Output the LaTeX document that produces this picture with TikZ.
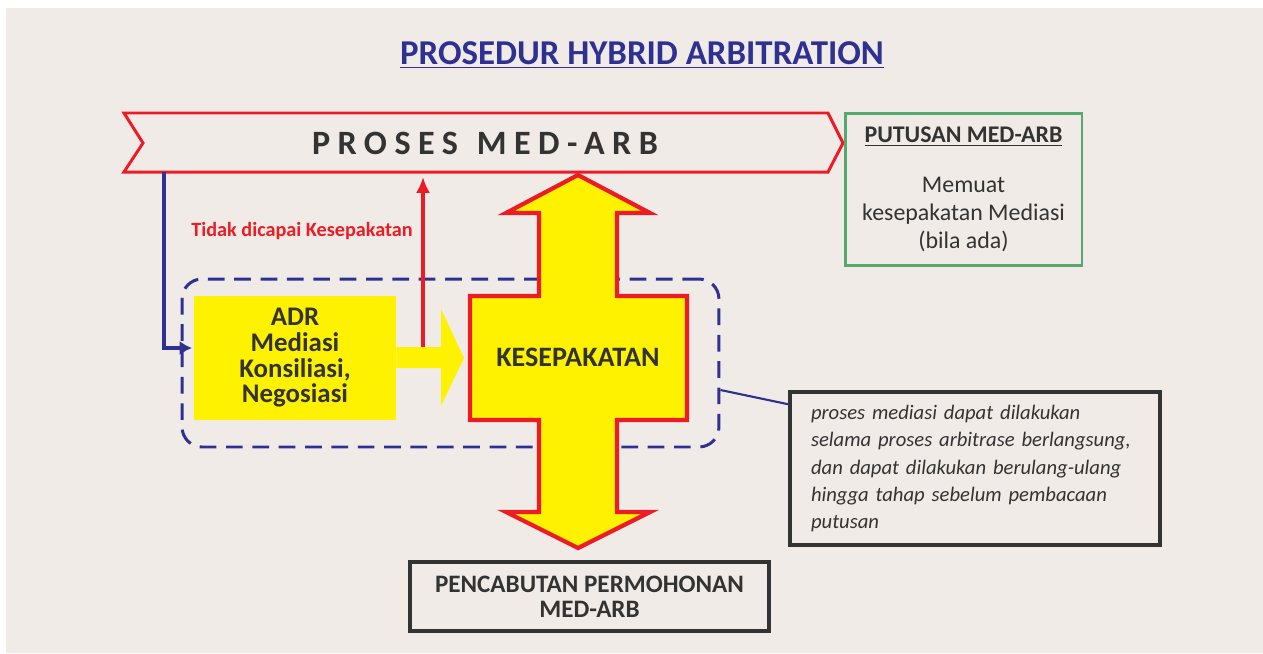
\documentclass[tikz,border=0pt]{standalone}
\usepackage{fontspec}
\setmainfont{Carlito}
\usetikzlibrary{arrows.meta,positioning}

\definecolor{bgpanel}{HTML}{F0EBE7}
\definecolor{medblue}{HTML}{2E3192}
\definecolor{medred}{HTML}{ED1C24}
\definecolor{medyellow}{HTML}{FFF200}
\definecolor{medgreen}{HTML}{55A86E}
\definecolor{darktext}{HTML}{333333}

\tikzset{
  redline/.style={draw=medred, line width=1.7pt},
  blueline/.style={draw=medblue, line width=2.2pt},
  darkbox/.style={draw=darktext, line width=2pt, text=darktext},
  boldtext/.style={text=darktext, font=\bfseries},
}

\begin{document}
\begin{tikzpicture}[x=0.02cm, y=-0.02cm]
  % background panel
  \fill[white](0, 0) rectangle (1263, 653);
  \fill[bgpanel](6, 8) rectangle (1263, 653);

  \node[text=medblue, font=\fontsize{19.85}{23}\selectfont\bfseries] at(642, 55)(title){\underline{PROSEDUR HYBRID ARBITRATION}};

  % banner
  \draw[redline](124, 113) -- (828, 113) -- (843, 143) -- (828, 172) -- (124, 172) -- (143, 143) -- cycle;
  \node[boldtext, font=\fontsize{19.4}{23}\selectfont\bfseries\addfontfeature{LetterSpace=22}] at(485, 143)(banner){PROSES\hspace{2pt} MED-ARB};

  \node[draw=medgreen, line width=1.7pt, text=darktext, minimum width=4.74cm, minimum height=3.06cm, align=center,
        font=\fontsize{13.6}{16}\selectfont] at(963.5, 189.5)(putusan){\textbf{\underline{PUTUSAN MED-ARB}}\\[12pt]Memuat\\kesepakatan Mediasi\\(bila ada)};

  % dashed group
  \node[draw=medblue, line width=1.7pt, dash pattern=on 9.5pt off 5.5pt, rounded corners=0.4cm,
        minimum width=10.74cm, minimum height=3.36cm] at(450.5, 363)(medgroup){};

  \node[fill=medyellow, minimum width=4.04cm, minimum height=2.48cm, align=center, boldtext,
        font=\fontsize{15.3}{14.6}\selectfont\bfseries] at(295, 358)(adr){ADR\\Mediasi\\Konsiliasi,\\Negosiasi};

  % yellow arrow
  \fill[medyellow](adr.east |- 0, 347) -- (441, 347) -- (441, 309) -- (464, 358) -- (441, 406) -- (441, 368) -- (adr.east |- 0, 368) -- cycle;

  % cross arrow
  \draw[redline, line width=2.4pt, fill=medyellow, line join=miter](578, 175) -- (650, 213) -- (617, 213) -- (617, 296) -- (687, 296) -- (687, 420)
     -- (617, 420) -- (617, 512) -- (650, 512) -- (578, 548) -- (506, 512) -- (539, 512) -- (539, 420) -- (470, 420)
     -- (470, 296) -- (539, 296) -- (539, 213) -- (506, 213) -- cycle;
  \node[boldtext, font=\fontsize{16}{19}\selectfont\bfseries] at(578, 357)(kes){KESEPAKATAN};

  \node[text=medred, font=\fontsize{11.5}{14}\selectfont\bfseries] at(302, 231)(tidak){Tidak dicapai Kesepakatan};

  \node[darkbox, minimum width=7.4cm, minimum height=3.06cm, text width=6.56cm, align=left,
        font=\fontsize{11.75}{15.4}\selectfont\itshape] at(975, 468.5)(catatan){proses mediasi dapat dilakukan\\selama proses arbitrase berlangsung,\\dan dapat dilakukan berulang-ulang\\hingga tahap sebelum pembacaan\\putusan};

  \node[darkbox, minimum width=7.18cm, minimum height=1.38cm, align=center,
        font=\fontsize{14.3}{14.2}\selectfont\bfseries] at(589.5, 596.5)(cabut){PENCABUTAN PERMOHONAN\\MED-ARB};

  % connectors
  \coordinate(armtop) at(164, 172);
  \coordinate(adrin) at(192, 348);
  \draw[blueline, -{Latex[length=7pt, width=8pt]}](armtop) |- (adrin);

  \coordinate(nogo) at(423, 347);
  \coordinate(bannerbot) at(423, 177);
  \draw[redline, line width=2.2pt, -{Latex[length=9pt, width=8pt]}](nogo) -- (bannerbot);

  \draw[medblue, line width=1.2pt]([yshift=-0.54cm]medgroup.east) -- ([yshift=-0.28cm]catatan.north west);

\end{tikzpicture}
\end{document}
